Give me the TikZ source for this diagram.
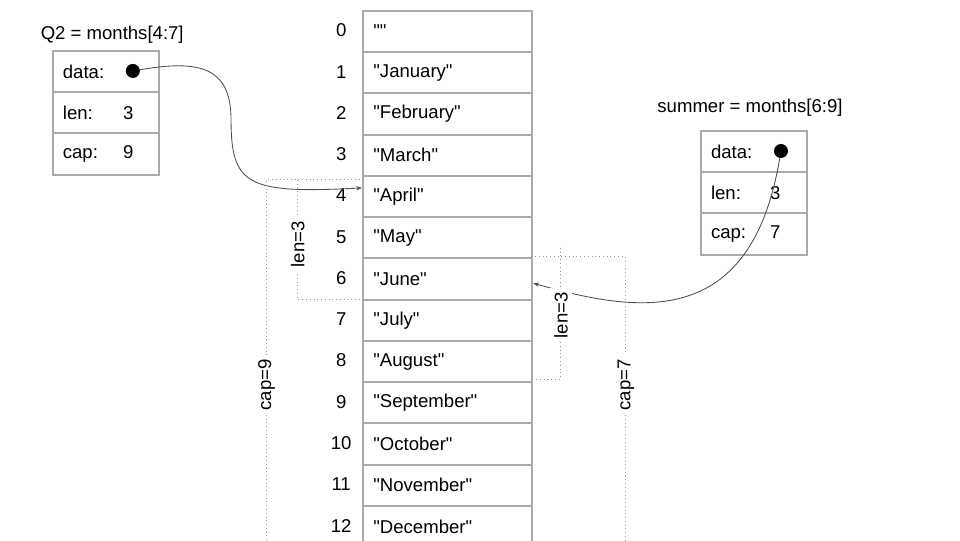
\documentclass[tikz,border=0pt]{standalone}
\usepackage{fontspec}
\setmainfont{Liberation Sans}[Ligatures=TeXOff]
\definecolor{boxgray}{RGB}{170,170,170}
\definecolor{linegray}{RGB}{80,80,80}
\definecolor{dotgray}{RGB}{150,150,150}
\usetikzlibrary{arrows.meta}
\tikzset{
  arraycell/.style={draw=boxgray, line width=1.4pt, text width=3.6cm, inner xsep=0.25cm, align=left, minimum height=1cm, anchor=north west},
  slicefield/.style={draw=boxgray, line width=1.4pt, text width=2.08cm, inner xsep=0.24cm, align=left, minimum height=1cm, anchor=north west},
  ptrline/.style={draw=linegray, line width=0.6pt, -{Stealth[length=4pt, width=3pt]}},
  spanline/.style={draw=dotgray, dotted, line width=0.6pt},
  spanlabel/.style={fill=white, rotate=90, inner sep=3pt},
  ptrdot/.style={circle, fill=black, inner sep=0pt, minimum size=0.34cm}
}

\begin{document}
\begin{tikzpicture}[y=-1cm, font=\fontsize{12.8}{15}\selectfont]
  \useasboundingbox (0,0) rectangle (23.27,13.09);

  % the array
  \foreach \m [count=\i from 0] in {"", "January", "February", "March", "April", "May", "June",
      "July", "August", "September", "October", "November", "December"} {
    \node [arraycell] (m\i) at (8.776, 0.24+\i) {\m};
    \node (n\i) at (8.27, 0.74+\i) {\i};
  }

  % Q2 slice
  \node (q2title) at (2.72, 0.85) {Q2 = months[4:7]};
  \node [slicefield] (q2data) at (1.26, 1.21) {data:};
  \node [slicefield] (q2len) at (1.26, 2.21) {\makebox[1.46cm][l]{len:}3};
  \node [slicefield] (q2cap) at (1.26, 3.21) {\makebox[1.46cm][l]{cap:}9};
  \node [ptrdot] (q2ptr) at (3.22, 1.72) {};

  % summer slice
  \node (stitle) at (18.18, 2.62) {summer = months[6:9]};
  \node [slicefield] (sdata) at (16.97, 3.15) {data:};
  \node [slicefield] (slen) at (16.97, 4.15) {\makebox[1.43cm][l]{len:}3};
  \node [slicefield] (scap) at (16.97, 5.15) {\makebox[1.43cm][l]{cap:}7};
  \node [ptrdot] (sptr) at (18.93, 3.66) {};

  % pointers
  \draw [ptrline] (q2ptr) .. controls (4.8, 1.45) and (5.6, 1.6) .. (5.6, 2.9)
    .. controls (5.6, 4.5) and (6.0, 4.7) .. ([yshift=0.21cm]m4.west);
  \draw [ptrline] (sptr) .. controls (18.2, 8.0) and (15.5, 7.6) .. ([yshift=-0.1cm]m6.east);

  % len and cap of Q2
  \draw [spanline] (6.46, 13.09) -- (6.46, 4.36) -- (8.776, 4.36);
  \draw [spanline] (7.22, 4.36) -- (7.22, 7.27) -- (8.776, 7.27);
  \node [spanlabel] (q2lenlabel) at (7.22, 5.92) {len=3};
  \node [spanlabel] (q2caplabel) at (6.46, 9.33) {cap=9};

  % len and cap of summer
  \draw [spanline] (12.876, 6.22) -- (15.15, 6.22) -- (15.15, 13.09);
  \draw [spanline] (13.58, 6.01) -- (13.58, 9.19) -- (12.876, 9.19);
  \node [spanlabel] (slenlabel) at (13.6, 7.64) {len=3};
  \node [spanlabel] (scaplabel) at (15.17, 9.33) {cap=7};
\end{tikzpicture}
\end{document}
